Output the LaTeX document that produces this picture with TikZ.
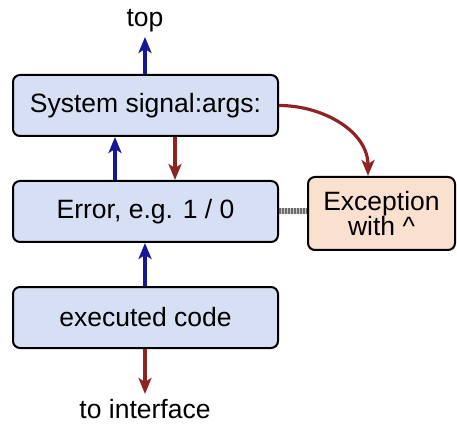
\documentclass[tikz,border=0pt]{standalone}
\usepackage{fontspec}
\setmainfont{Liberation Sans}
\usetikzlibrary{arrows.meta}
\definecolor{boxblue}{HTML}{D6DFF3}
\definecolor{boxorange}{HTML}{F9E0CF}
\definecolor{arrblue}{HTML}{16169A}
\definecolor{arrred}{HTML}{8E2323}
\tikzset{
  box/.style={draw=black, line width=2pt, rounded corners=7pt, fill=boxblue,
    minimum width=265pt, minimum height=61pt, inner sep=0pt,
    font=\fontsize{26.5}{24}\selectfont},
  exbox/.style={box, fill=boxorange, minimum width=147pt, minimum height=73pt, align=center},
  lbl/.style={font=\fontsize{26.5}{24}\selectfont, inner sep=0pt, anchor=base},
  upar/.style={draw=arrblue, line width=3.2pt, -{Stealth[length=16pt,width=13pt,inset=4pt]}},
  dnar/.style={draw=arrred, line width=3.2pt, -{Stealth[length=16pt,width=13pt,inset=4pt]}},
  linkbase/.style={draw=gray!45, line width=6pt},
  link/.style={draw=gray!85!black, line width=6pt, dash pattern=on 2pt off 1pt}
}
\begin{document}
\begin{tikzpicture}[x=1pt,y=1pt]
\useasboundingbox (0,0) rectangle (457,423);
\node[box] (sys) at (145.5,317.5) {System signal:args:};
\node[box] (err) at (145.5,211.5) {Error, e.g. 1 / 0};
\node[box] (exe) at (145.5,105.5) {executed code};
\node[exbox] (exc) at (381.5,209.5) {Exception\\with \^{}};
\node[lbl] (top) at (145,396) {top};
\node[lbl] (ifc) at (145,5) {to interface};
\coordinate (topend) at (145,386);
\coordinate (ifcend) at (145,29);
\draw[upar] (sys.north -| topend) -- (topend);
\draw[upar] (err.north -| 115,0) -- (sys.south -| 115,0);
\draw[dnar] (sys.south -| 175,0) -- (err.north -| 175,0);
\draw[upar] (exe.north -| 145,0) -- (err.south -| 145,0);
\draw[dnar] (exe.south -| ifcend) -- (ifcend);
\coordinate (excin) at (368,0);
\draw[dnar] (sys.east) to[out=0,in=90] (exc.north -| excin);
\draw[linkbase] (err.east) -- (exc.west |- err.east);
\draw[link] (err.east) -- (exc.west |- err.east);
\end{tikzpicture}
\end{document}
